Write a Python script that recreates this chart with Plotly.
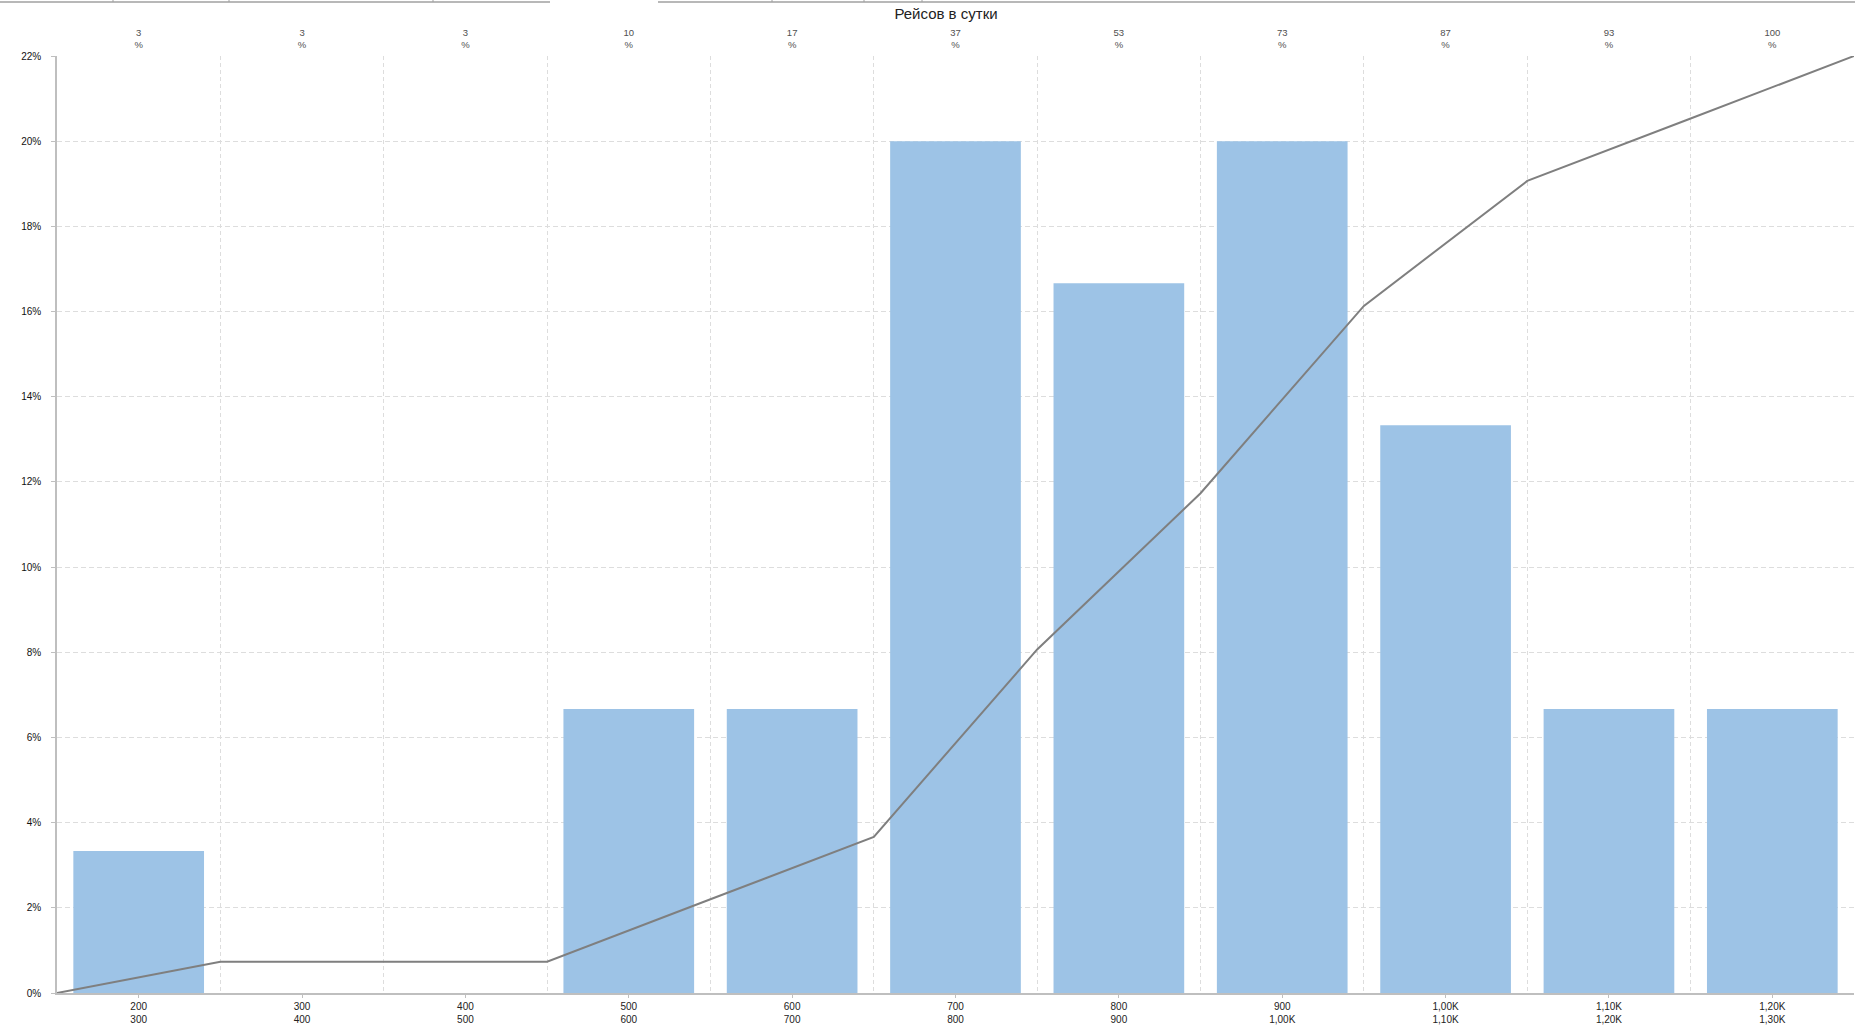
import plotly.graph_objects as go

# ---- data ----
bin_low = ["200", "300", "400", "500", "600", "700", "800", "900", "1,00K", "1,10K", "1,20K"]
bin_high = ["300", "400", "500", "600", "700", "800", "900", "1,00K", "1,10K", "1,20K", "1,30K"]
share_pct = [3.333, 0, 0, 6.667, 6.667, 20.0, 16.667, 20.0, 13.333, 6.667, 6.667]
cum_pct = [3.333, 3.333, 3.333, 10.0, 16.667, 36.667, 53.333, 73.333, 86.667, 93.333, 100.0]
cum_labels = ["3", "3", "3", "10", "17", "37", "53", "73", "87", "93", "100"]
title_text = "Рейсов в сутки"

# ---- layout geometry ----
W, H = 1855, 1036
ML, MR, MT, MB = 57, 1, 56, 43
PW, PH = W - ML - MR, H - MT - MB

n = len(bin_low)
cats = list(range(n))
bounds = [i + 0.5 for i in range(-1, n)]
xr = [-0.5, n - 0.5]

FONT = "Liberation Sans"
grid_col = "#DDDDDD"
axis_col = "#BFBFBF"

fig = go.Figure()
fig.add_trace(go.Bar(
    x=cats, y=share_pct, width=0.8,
    marker=dict(color="#9DC3E6", line=dict(width=0)),
    xaxis="x", yaxis="y", showlegend=False, hoverinfo="y",
))
fig.add_trace(go.Scatter(
    x=bounds, y=[0] + cum_pct, mode="lines",
    line=dict(color="#7F7F7F", width=2),
    xaxis="x2", yaxis="y2", showlegend=False,
))

# tab strip lines at the very top (UI decoration)
def px_x(p):
    return (p - ML) / PW

def px_y(p):
    return (H - MB - p) / PH

tab_segments = [(0, 550), (658, W)]
tab_dividers = [113, 229, 433, 772, 864, 922]
shapes = []
for a, b in tab_segments:
    shapes.append(dict(type="line", xref="paper", yref="paper",
                       x0=px_x(a), x1=px_x(b), y0=px_y(2), y1=px_y(2),
                       line=dict(color="#A0A0A0", width=1.5)))
for d in tab_dividers:
    shapes.append(dict(type="line", xref="paper", yref="paper",
                       x0=px_x(d), x1=px_x(d), y0=px_y(0), y1=px_y(2),
                       line=dict(color="#A0A0A0", width=1)))

fig.update_layout(
    width=W, height=H,
    margin=dict(l=ML, r=MR, t=MT, b=MB, pad=0),
    paper_bgcolor="white", plot_bgcolor="white",
    font=dict(family=FONT, size=10, color="#222222"),
    title=dict(text=title_text, x=946 / W, xanchor="center",
               y=1 - 14 / H, yanchor="middle",
               font=dict(family=FONT, size=15, color="#222222")),
    bargap=0.2,
    shapes=shapes,
    xaxis=dict(
        range=xr, tickmode="array", tickvals=cats,
        ticktext=[f"{a}<br>{b}" for a, b in zip(bin_low, bin_high)],
        showgrid=False, zeroline=False,
        showline=True, linecolor=axis_col, linewidth=1.5,
        ticks="outside", ticklen=3, tickcolor=axis_col,
        tickfont=dict(family=FONT, size=10, color="#222222"),
        minor=dict(tickmode="array", tickvals=bounds[1:], showgrid=True,
                   gridcolor=grid_col, griddash="4px,3px", gridwidth=1, ticks=""),
        fixedrange=True,
    ),
    xaxis2=dict(
        range=xr, overlaying="x", side="top", anchor="y",
        tickmode="array", tickvals=cats,
        ticktext=[f"{c}<br>%" for c in cum_labels],
        showgrid=False, zeroline=False, showline=False, ticks="",
        ticklabelstandoff=5,
        tickfont=dict(family=FONT, size=9.5, color="#505050"),
    ),
    yaxis=dict(
        range=[0, 22], dtick=2, ticksuffix="%",
        showgrid=True, gridcolor=grid_col, griddash="5px,3px", gridwidth=1,
        zeroline=False, showline=True, linecolor=axis_col, linewidth=1.5,
        ticks="outside", ticklen=4, tickcolor=axis_col,
        ticklabelstandoff=8,
        tickfont=dict(family=FONT, size=10, color="#111111"),
    ),
    yaxis2=dict(range=[0, 100], overlaying="y", visible=False),
)

fig.write_html("out.html")
